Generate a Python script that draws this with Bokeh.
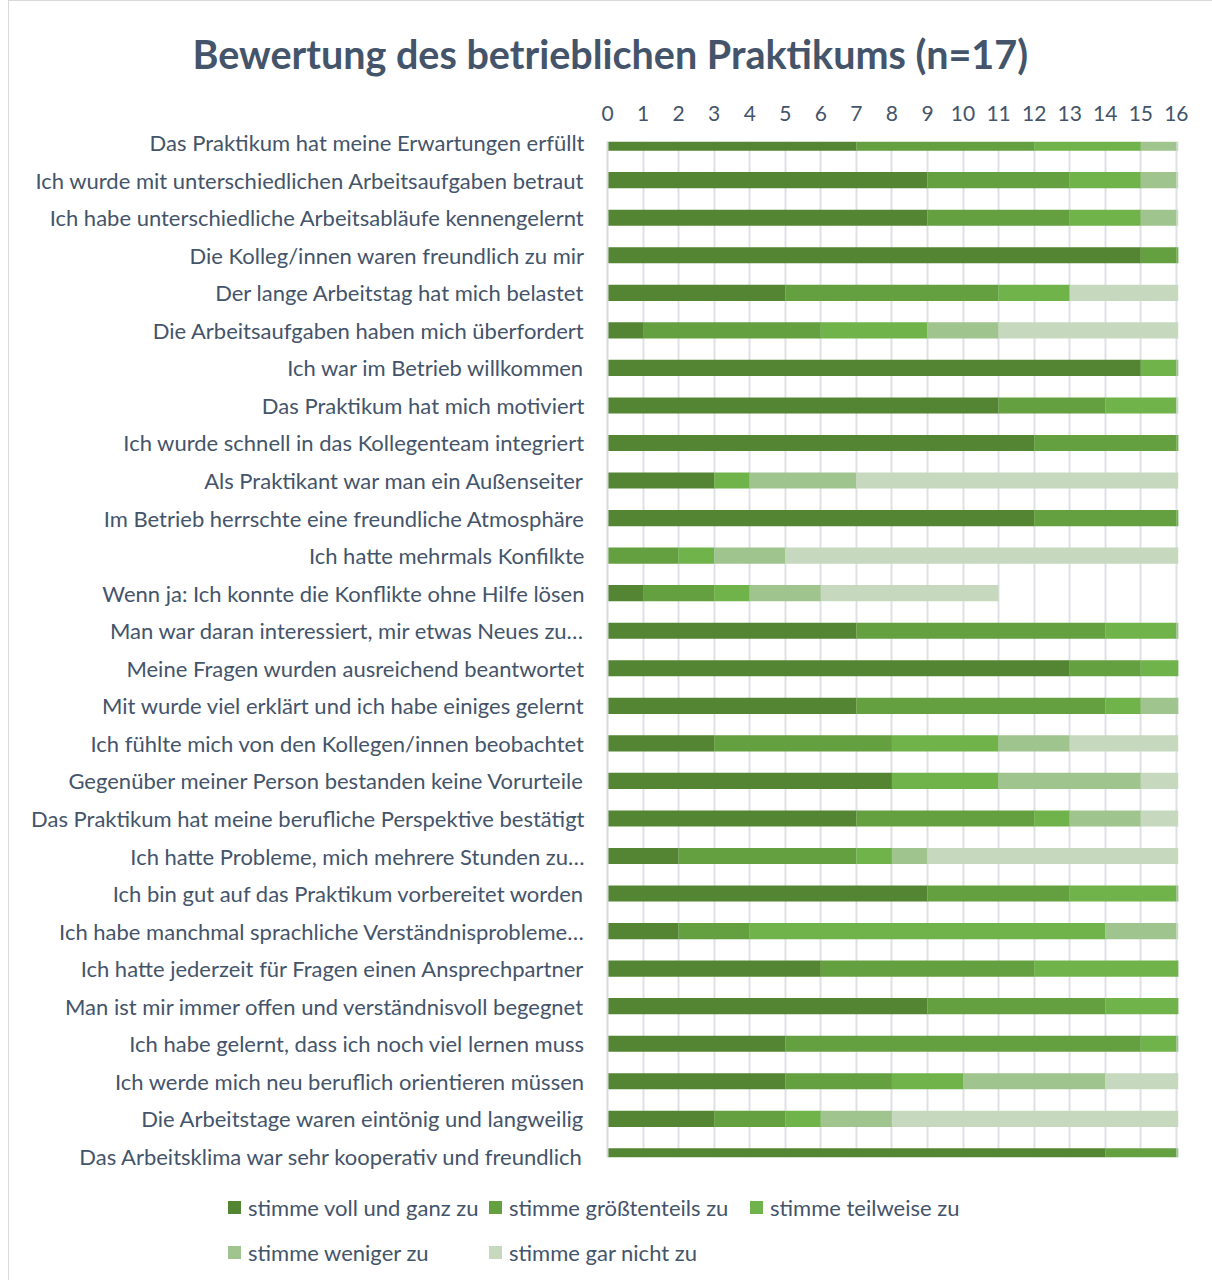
from bokeh.plotting import figure
from bokeh.models import ColumnDataSource, Range1d, FixedTicker, Div
from bokeh.layouts import column
from bokeh.embed import file_html
from bokeh.resources import INLINE

categories = [
    "Das Praktikum hat meine Erwartungen erfüllt",
    "Ich wurde mit unterschiedlichen Arbeitsaufgaben betraut",
    "Ich habe unterschiedliche Arbeitsabläufe kennengelernt",
    "Die Kolleg/innen waren freundlich zu mir",
    "Der lange Arbeitstag hat mich belastet",
    "Die Arbeitsaufgaben haben mich überfordert",
    "Ich war im Betrieb willkommen",
    "Das Praktikum hat mich motiviert",
    "Ich wurde schnell in das Kollegenteam integriert",
    "Als Praktikant war man ein Außenseiter",
    "Im Betrieb herrschte eine freundliche Atmosphäre",
    "Ich hatte mehrmals Konfilkte",
    "Wenn ja: Ich konnte die Konflikte ohne Hilfe lösen",
    "Man war daran interessiert, mir etwas Neues zu…",
    "Meine Fragen wurden ausreichend beantwortet",
    "Mit wurde viel erklärt und ich habe einiges gelernt",
    "Ich fühlte mich von den Kollegen/innen beobachtet",
    "Gegenüber meiner Person bestanden keine Vorurteile",
    "Das Praktikum hat meine berufliche Perspektive bestätigt",
    "Ich hatte Probleme, mich mehrere Stunden zu…",
    "Ich bin gut auf das Praktikum vorbereitet worden",
    "Ich habe manchmal sprachliche Verständnisprobleme…",
    "Ich hatte jederzeit für Fragen einen Ansprechpartner",
    "Man ist mir immer offen und verständnisvoll begegnet",
    "Ich habe gelernt, dass ich noch viel lernen muss",
    "Ich werde mich neu beruflich orientieren müssen",
    "Die Arbeitstage waren eintönig und langweilig",
    "Das Arbeitsklima war sehr kooperativ und freundlich",
]

series_names = ["stimme voll und ganz zu", "stimme größtenteils zu", "stimme teilweise zu",
                "stimme weniger zu", "stimme gar nicht zu"]

voll     = [7, 9, 9, 15, 5, 1, 15, 11, 12, 3, 12, 0, 1, 7, 13, 7, 3, 8, 7, 2, 9, 2, 6, 9, 5, 5, 3, 14]
groesst  = [5, 4, 4, 1, 6, 5, 0, 3, 4, 0, 4, 2, 2, 7, 2, 7, 5, 0, 5, 5, 4, 2, 6, 5, 10, 3, 2, 2]
teil     = [3, 2, 2, 1, 2, 3, 1, 2, 1, 1, 1, 1, 1, 2, 2, 1, 3, 3, 1, 1, 3, 10, 5, 3, 1, 2, 1, 0]
weniger  = [1, 1, 1, 0, 0, 2, 1, 0, 0, 3, 0, 2, 2, 1, 0, 2, 2, 4, 2, 1, 1, 2, 0, 0, 1, 4, 2, 1]
gar      = [1, 1, 1, 0, 4, 6, 0, 1, 0, 10, 0, 12, 5, 0, 0, 0, 4, 2, 2, 8, 0, 1, 0, 0, 0, 3, 9, 0]

x_ticks = list(range(0, 17))
title_text = "Bewertung des betrieblichen Praktikums (n=17)"

colors = ["#548532", "#64a040", "#70b34b", "#a0c48e", "#c6d9be"]
keys = ["voll", "groesst", "teil", "weniger", "gar"]
TEXT = "#44546a"
FONT = "Lato"

ypos = list(range(len(categories)))
source = ColumnDataSource(dict(y=ypos, voll=voll, groesst=groesst, teil=teil,
                               weniger=weniger, gar=gar))

p = figure(width=1200, height=1176, output_backend="svg", toolbar_location=None,
           x_range=Range1d(0, 16.06), y_range=Range1d(27.03, -0.03),
           x_axis_location="above",
           min_border_left=598, min_border_right=31, min_border_top=130, min_border_bottom=20)
p.outline_line_color = None
p.background_fill_color = "white"
p.border_fill_color = "white"

p.hbar_stack(keys, y="y", height=0.43, color=colors, line_color=None, source=source)

# title
p.title.text = title_text
p.title.text_font = FONT
p.title.text_font_style = "bold"
p.title.text_font_size = "39.5px"
p.title.text_color = TEXT
p.title.align = "left"
p.title.offset = -415
p.title.standoff = 52

# x axis (top)
xa = p.xaxis[0]
xa.ticker = FixedTicker(ticks=x_ticks)
xa.axis_line_color = None
xa.major_tick_line_color = None
xa.minor_tick_line_color = None
xa.major_label_text_font = FONT
xa.major_label_text_font_size = "21px"
xa.major_label_text_color = TEXT
xa.major_label_standoff = 15

# y axis with category labels
ya = p.yaxis[0]
ya.ticker = FixedTicker(ticks=ypos)
ya.major_label_overrides = {i: c for i, c in enumerate(categories)}
ya.axis_line_color = "#d5d9df"
ya.axis_line_width = 2
ya.major_tick_line_color = None
ya.minor_tick_line_color = None
ya.major_label_text_font = FONT
ya.major_label_text_font_size = "22px"
ya.major_label_text_color = TEXT
ya.major_label_standoff = 17

p.xgrid.ticker = FixedTicker(ticks=x_ticks)
p.xgrid.grid_line_color = "#dde1e6"
p.xgrid.grid_line_width = 2
p.ygrid.grid_line_color = None

# legend strip below the chart (3 columns, 2 rows)
parts = [f'<div style="position:relative;width:1200px;height:100px;font-family:{FONT};'
         f'font-size:22px;color:{TEXT};">']
for i, (name, col) in enumerate(zip(series_names, colors)):
    lx = 214 + 261 * (i % 3)
    ly = 26 + 45 * (i // 3)
    parts.append(f'<div style="position:absolute;left:{lx}px;top:{ly - 7}px;width:13px;height:13px;'
                 f'background:{col};"></div>')
    parts.append(f'<div style="position:absolute;left:{lx + 20}px;top:{ly - 13}px;height:26px;'
                 f'line-height:26px;white-space:nowrap;">{name}</div>')
parts.append('</div>')
legend_div = Div(text="".join(parts), width=1200, height=100)

layout = column(p, legend_div, spacing=0)
layout.styles = {"border": "1px solid #d9d9d9", "margin-left": "8px", "margin-top": "0px"}

open("out.html", "w").write(file_html(layout, INLINE))
